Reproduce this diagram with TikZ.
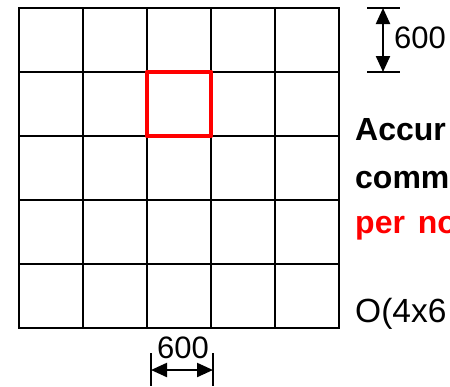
\documentclass[tikz,border=0pt]{standalone}
\usepackage{fontspec}
\setmainfont{Liberation Sans}
\usetikzlibrary{arrows.meta}
\begin{document}
\begin{tikzpicture}[x=1pt,y=-1pt,
  gridline/.style={line width=2.5pt,line cap=rect},
  hilite/.style={draw=red,line width=4.5pt,line join=round},
  dimline/.style={line width=2.2pt,{Triangle[width=14pt,length=16pt]}-{Triangle[width=14pt,length=16pt]}},
  tickline/.style={line width=2.5pt},
  lbl/.style={inner sep=0pt,anchor=base west,font=\fontsize{31}{31}\selectfont},
  blbl/.style={lbl,font=\fontsize{32}{32}\selectfont\bfseries}]
\useasboundingbox (0,0) rectangle (450,386);
\clip (0,0) rectangle (450,386);
% grid
\foreach \i in {0,...,5} {
  \draw[gridline] (19+64*\i,8) -- (19+64*\i,328);
  \draw[gridline] (19,8+64*\i) -- (339,8+64*\i);
}
% highlighted cell
\draw[hilite] (147,72) rectangle (211,136);
% vertical dimension
\coordinate (vt) at (383,8);
\coordinate (vb) at (383,72);
\draw[tickline] (367,8) -- (400,8);
\draw[tickline] (367,72) -- (400,72);
\draw[dimline] (vt) -- (vb);
\node[lbl] (v600) at (394,48) {600};
% horizontal dimension
\coordinate (hl) at (151,370);
\coordinate (hr) at (213,370);
\draw[tickline] (151,353) -- (151,386);
\draw[tickline] (213,353) -- (213,386);
\draw[dimline] (hl) -- (hr);
\node[lbl,anchor=base] (h600) at (183,358) {600};
% text (cut off at the right edge, as in the reference)
\node[blbl] (t1) at (355,140) {Accur};
\node[blbl] (t2) at (355,188) {comm};
\node[blbl,text=red] (t3) at (355,233) {per\hspace{0.4em}no};
\node[lbl,font=\fontsize{33.5}{33.5}\selectfont] (t4) at (355,322) {O(4x6};
\end{tikzpicture}
\end{document}
